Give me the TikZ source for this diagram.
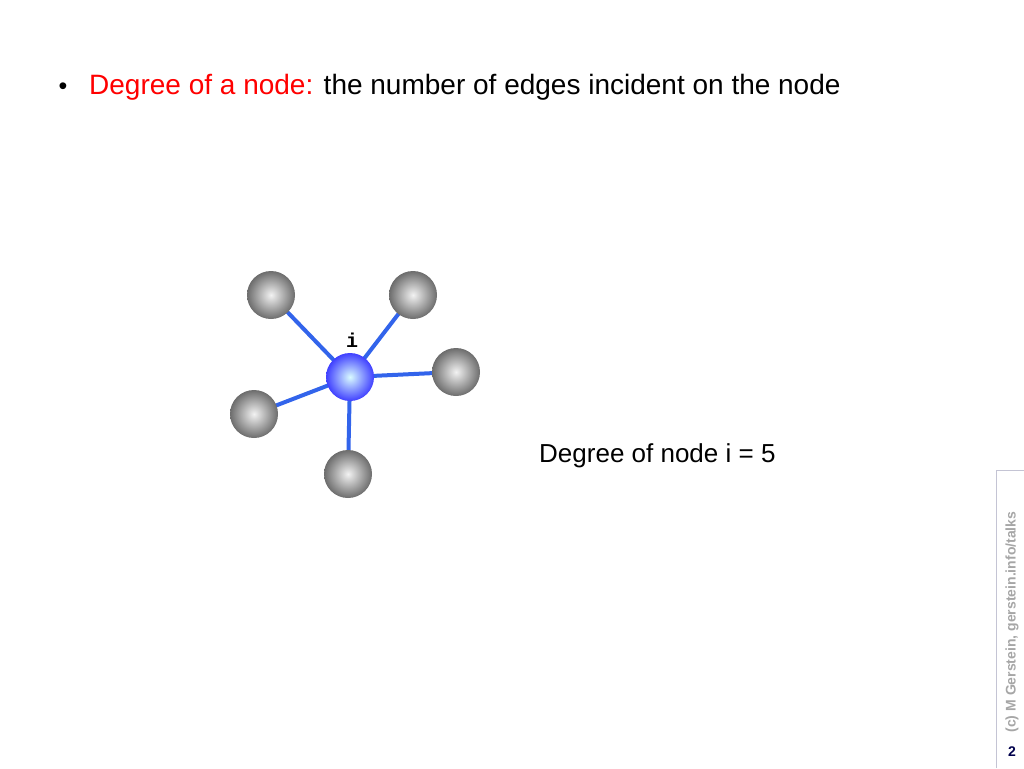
\documentclass[tikz,border=0pt]{standalone}
\usepackage{fontspec}
\setmainfont{Liberation Sans}
\newfontfamily\monob{Liberation Mono}
\usetikzlibrary{backgrounds}
\definecolor{edgeblue}{RGB}{50,100,235}
\begin{document}
\begin{tikzpicture}[x=1pt,y=-1pt,
  gball/.style={circle,minimum size=48pt,inner sep=0pt,inner color=gray!10,outer color=gray!85!black},
  bball/.style={circle,minimum size=48pt,inner sep=0pt,inner color=blue!10!cyan!15,outer color=blue!75!white},
  edge/.style={draw=edgeblue,line width=4pt}]
\useasboundingbox (0,0) rectangle (1024,768);
\node[anchor=base west,font=\fontsize{25}{30}\selectfont] (bul) at (55,94) {\textbullet};
\node[anchor=base west,inner sep=0pt,font=\fontsize{28}{32}\selectfont] (t) at (89,94) {\textcolor{red}{Degree of a node:} the number of edges incident on the node};
\node[gball] (a) at (271,295) {};
\node[gball] (b) at (413,295) {};
\node[gball] (c) at (456,372) {};
\node[gball] (d) at (254,414) {};
\node[gball] (e) at (348,474) {};
\node[bball] (i) at (350,377) {};
\begin{scope}[on background layer]
\foreach \n in {a,b,c,d,e}{\path[edge] (i.center) -- (\n.center);}
\end{scope}
\node[font=\monob\bfseries\fontsize{20}{24}\selectfont] (il) at (352,340) {i};
\node[anchor=base west,inner sep=0pt,font=\fontsize{26}{30}\selectfont] (deg) at (539,462) {Degree of node i = 5};
\coordinate (m1) at (996,768); \coordinate (m2) at (996,470); \coordinate (m3) at (1024,470);
\draw[draw=blue!15!gray!40,line width=1pt] (m1) -- (m2) -- (m3);
\node[rotate=90,text=gray!70,font=\bfseries\fontsize{14}{16}\selectfont] (cr) at (1012,622) {(c) M Gerstein, gerstein.info/talks};
\node[font=\bfseries\fontsize{14}{16}\selectfont,text=blue!30!black] (pg) at (1012,752) {2};
\end{tikzpicture}
\end{document}
